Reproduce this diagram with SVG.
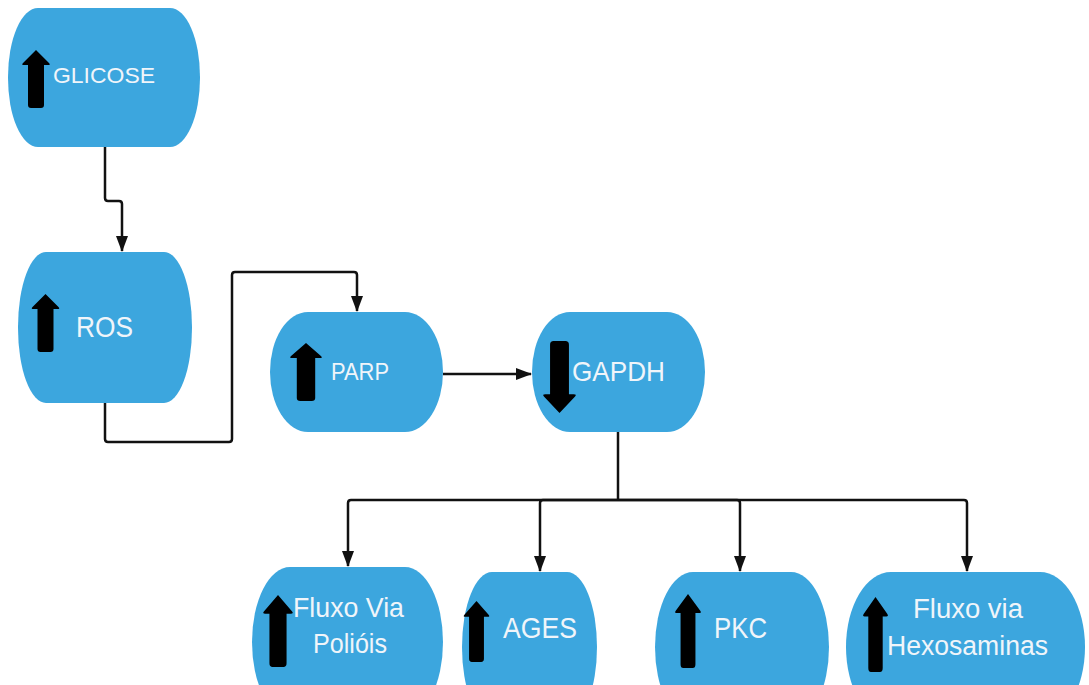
<svg xmlns="http://www.w3.org/2000/svg" width="1089" height="685" viewBox="0 0 1089 685">
<defs>
<style>
.n{fill:#3ca6de}
.t{fill:#f0f5fa;font-family:"Liberation Sans",Arial,sans-serif}
.c{fill:none;stroke:#111;stroke-width:2.5;stroke-linejoin:round}
</style>
<marker id="ah" markerWidth="16" markerHeight="12" refX="15" refY="6" orient="auto" markerUnits="userSpaceOnUse" viewBox="0 0 16 12">
<path d="M0,0 L16,6 L0,12 z" fill="#111"/>
</marker>
<path id="up" d="M0,-29 L13,-16 Q15,-14 12,-14 L8,-14 L8,26 Q8,29 5,29 L-5,29 Q-8,29 -8,26 L-8,-14 L-12,-14 Q-15,-14 -13,-16 z"/>
</defs>
<rect width="1089" height="685" fill="#fff"/>
<g id="connectors">
<path class="c" d="M105,147 L105,198 Q105,201 108,201 L119,201 Q122,201 122,204 L122,251" marker-end="url(#ah)"/>
<path class="c" d="M105,403 L105,439 Q105,442 108,442 L229,442 Q232,442 232,439 L232,275 Q232,272 235,272 L354,272 Q357,272 357,275 L357,311" marker-end="url(#ah)"/>
<path class="c" d="M443,374 L531,374" marker-end="url(#ah)"/>
<path class="c" d="M618,432 L618,500"/>
<path class="c" d="M618,500 L351,500 Q348,500 348,503 L348,566" marker-end="url(#ah)"/>
<path class="c" d="M618,500 L543,500 Q540,500 540,503 L540,571" marker-end="url(#ah)"/>
<path class="c" d="M618,500 L737,500 Q740,500 740,503 L740,571" marker-end="url(#ah)"/>
<path class="c" d="M618,500 L964,500 Q967,500 967,503 L967,571" marker-end="url(#ah)"/>
</g>
<g id="glicose">
<rect class="n" x="8" y="8" width="192" height="139" rx="30" ry="69"/>
<use href="#up" transform="translate(36,79)"/>
<text class="t" x="53" y="83" font-size="22" textLength="102" lengthAdjust="spacingAndGlyphs">GLICOSE</text>
</g>
<g id="ros">
<rect class="n" x="18" y="252" width="174" height="151" rx="28" ry="75"/>
<use href="#up" transform="translate(45.5,323)"/>
<text class="t" x="76" y="337" font-size="29" textLength="57" lengthAdjust="spacingAndGlyphs">ROS</text>
</g>
<g id="parp">
<rect class="n" x="270" y="312" width="173" height="120" rx="38" ry="60"/>
<use href="#up" transform="translate(306,372) scale(1.15,1)"/>
<text class="t" x="331" y="380" font-size="23" textLength="58" lengthAdjust="spacingAndGlyphs">PARP</text>
</g>
<g id="gapdh">
<rect class="n" x="532" y="312" width="173" height="120" rx="38" ry="60"/>
<use href="#up" transform="translate(559.5,377) rotate(180) scale(1.18,1.24)"/>
<text class="t" x="572" y="381" font-size="28" textLength="93" lengthAdjust="spacingAndGlyphs">GAPDH</text>
</g>
<g id="poliois">
<rect class="n" x="252" y="567" width="191" height="150" rx="38" ry="75"/>
<use href="#up" transform="translate(278,631) scale(1.07,1.24)"/>
<text class="t" x="293" y="617" font-size="28" textLength="111" lengthAdjust="spacingAndGlyphs">Fluxo Via</text>
<text class="t" x="313" y="653" font-size="28" textLength="74" lengthAdjust="spacingAndGlyphs">Polióis</text>
</g>
<g id="ages">
<rect class="n" x="462" y="572" width="135" height="150" rx="30" ry="75"/>
<use href="#up" transform="translate(476.5,631.5) scale(0.93,1.05)"/>
<text class="t" x="503" y="638" font-size="29" textLength="74" lengthAdjust="spacingAndGlyphs">AGES</text>
</g>
<g id="pkc">
<rect class="n" x="655" y="572" width="174" height="150" rx="38" ry="75"/>
<use href="#up" transform="translate(688,631) scale(0.93,1.28)"/>
<text class="t" x="714" y="638" font-size="29" textLength="53" lengthAdjust="spacingAndGlyphs">PKC</text>
</g>
<g id="hexosaminas">
<rect class="n" x="846" y="572" width="239" height="150" rx="45" ry="75"/>
<use href="#up" transform="translate(875.5,634.5) scale(0.9,1.29)"/>
<text class="t" x="913" y="618" font-size="27" textLength="110" lengthAdjust="spacingAndGlyphs">Fluxo  via</text>
<text class="t" x="887" y="655" font-size="27" textLength="161" lengthAdjust="spacingAndGlyphs">Hexosaminas</text>
</g>
</svg>
